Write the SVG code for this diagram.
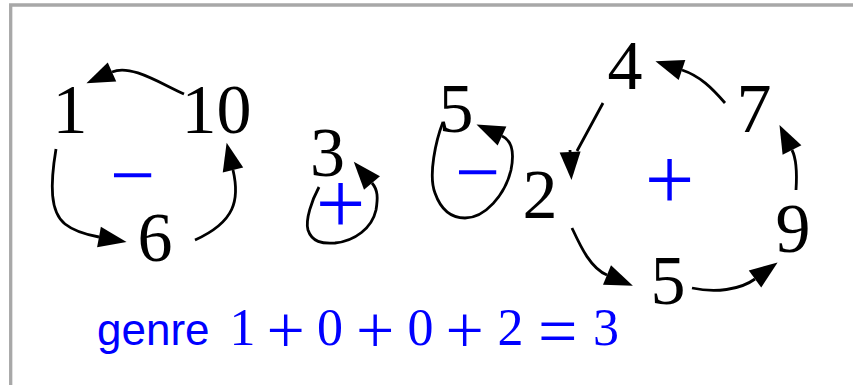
<svg xmlns="http://www.w3.org/2000/svg" width="853" height="385" viewBox="0 0 853 385">
<style>
.num{font-family:"Liberation Serif","Times New Roman",serif;font-size:70px;fill:#000;text-anchor:middle}
.lab{font-family:"Liberation Serif","Times New Roman",serif;fill:#00f;text-anchor:middle}
.edge{fill:none;stroke:#000;stroke-width:2.8;stroke-linecap:butt;marker-end:url(#ah)}
.eq{font-family:"Liberation Serif","Times New Roman",serif;font-size:52px;fill:#00f}
.op{font-size:68px}
.frame{fill:none;stroke:#a8a8a8;stroke-width:3.3}
</style>
<defs>
<marker id="ah" viewBox="0 -12 30 24" markerWidth="30" markerHeight="24" refX="0" refY="0" orient="auto" markerUnits="userSpaceOnUse" overflow="visible">
<path d="M0,-10.5 L28,0 L0,10.5 Z" fill="#000"/>
</marker>
</defs>
<rect width="853" height="385" fill="#fff"/>
<path class="frame" d="M10.7,385 V5 H853"/>

<g id="connectors">
<path class="edge" d="M184,94 C158,82 130,64 112,72"/>
<path class="edge" d="M56,149 C50,185 50,212 65,224 C75,232 88,235 99,237"/>
<path class="edge" d="M195,240 C235,222 240,200 233,170"/>
<path class="edge" d="M319,187 C312,200 305,220 308,230 C312,242 322,244 335,243 C355,241 372,228 376,210 C378,198 378,190 372,183"/>
<path class="edge" d="M443,122 C436,140 428,175 435,193 C441,210 452,218 465,218 C485,218 505,195 511,170 C514,155 513,141 502,136"/>
<path class="edge" d="M725,103 C712,88 700,76 682,70"/>
<path class="edge" d="M603,103 L577,151 M570,150 L570.1,152"/>
<path class="edge" d="M572,228 C580,245 590,268 607,275"/>
<path class="edge" d="M692,288 C715,293 740,290 755,279"/>
<path class="edge" d="M796,190 C797,175 797,160 792,150"/>
</g>

<g id="n1"><text class="num" x="70" y="133">1</text></g>
<g id="n10"><text class="num" x="216.5" y="133">10</text></g>
<g id="n6"><text class="num" x="155" y="261">6</text></g>
<g id="n3"><text class="num" x="327.5" y="176">3</text></g>
<g id="n5a"><text class="num" x="456" y="132">5</text></g>
<g id="n2"><text class="num" x="540" y="218">2</text></g>
<g id="n4"><text class="num" x="625" y="89">4</text></g>
<g id="n7"><text class="num" x="754" y="132">7</text></g>
<g id="n9"><text class="num" x="793" y="252">9</text></g>
<g id="n5b"><text class="num" x="668" y="304">5</text></g>

<g id="lab-left"><text class="lab" x="132.5" y="202" font-size="80">−</text></g>
<g id="lab-3"><text class="lab" x="340.5" y="233" font-size="88">+</text></g>
<g id="lab-5"><text class="lab" x="477.5" y="199" font-size="80">−</text></g>
<g id="lab-right"><text class="lab" x="669.5" y="209" font-size="88">+</text></g>

<g id="caption">
<text class="eq"><tspan x="97" y="345" style="font-family:'Liberation Sans',Arial,sans-serif;font-size:44px">genre</tspan> <tspan x="229.5" y="345">1</tspan> <tspan class="op" x="266.5" y="353">+</tspan> <tspan x="317" y="345">0</tspan> <tspan class="op" x="356" y="353">+</tspan> <tspan x="407.5" y="345">0</tspan> <tspan class="op" x="445.5" y="353">+</tspan> <tspan x="497.5" y="345">2</tspan> <tspan class="op" x="538" y="355" style="font-size:70px">=</tspan> <tspan x="593" y="345">3</tspan></text>
</g>
</svg>
